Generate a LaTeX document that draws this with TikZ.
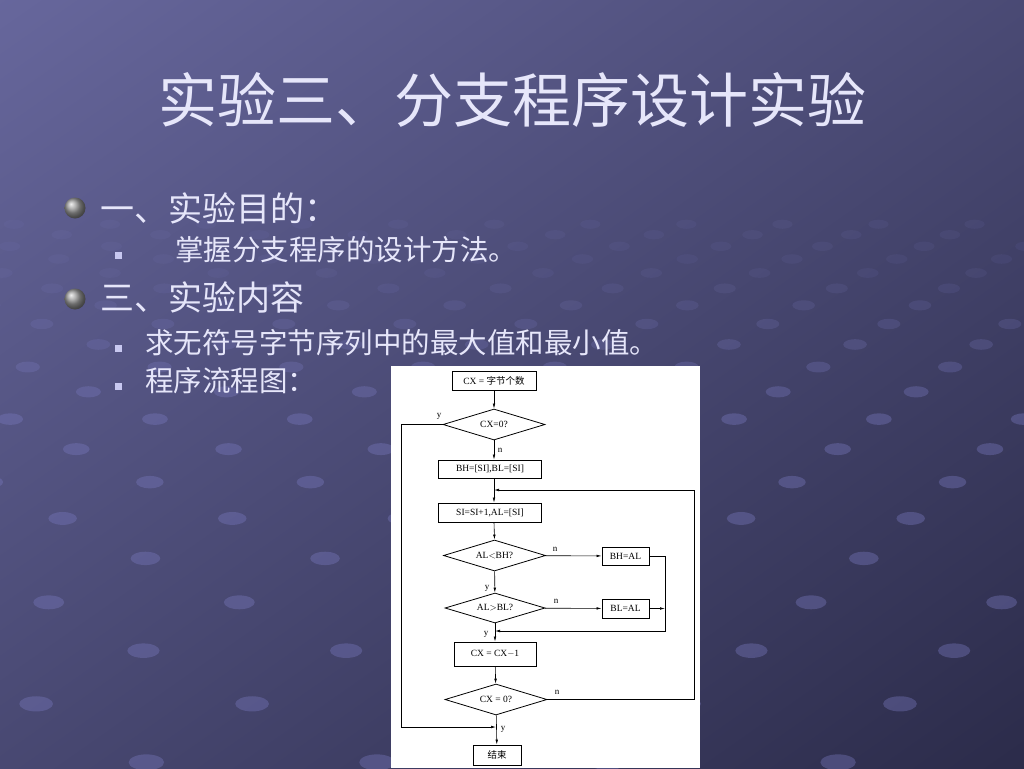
\documentclass[tikz,border=0pt]{standalone}
\usepackage{fontspec}
\setmainfont{Liberation Serif}
\newfontfamily\cjk{Noto Sans CJK SC}
\usetikzlibrary{shapes.geometric,arrows.meta,positioning}

\definecolor{bgtop}{RGB}{104,104,158}
\definecolor{bgbot}{RGB}{42,42,72}
\definecolor{dotc}{RGB}{122,122,192}
\definecolor{slidetext}{RGB}{230,230,250}
\definecolor{sqbullet}{RGB}{200,200,240}

\tikzset{
  title/.style={text=slidetext, font=\cjk\fontsize{59}{62}\selectfont, inner sep=0pt},
  lvlone/.style={anchor=west, text=slidetext, font=\cjk\fontsize{34}{38}\selectfont, inner sep=0pt},
  lvltwo/.style={anchor=west, text=slidetext, font=\cjk\fontsize{28.5}{31}\selectfont, inner sep=0pt},
  proc/.style={draw, line width=0.8pt, inner sep=1pt, font=\fontsize{9.5}{10}\selectfont},
  decision/.style={draw, diamond, line width=0.8pt, inner sep=0pt, aspect=3.3,
    minimum width=102pt, minimum height=31pt, font=\fontsize{9.5}{10}\selectfont},
  flow/.style={line width=0.6pt, -{Latex[length=5pt,width=2.6pt]}},
  yn/.style={font=\fontsize{9}{9}\selectfont, inner sep=0pt},
}

\begin{document}
\begin{tikzpicture}[x=1pt, y=-1pt]

    \useasboundingbox (0,0) rectangle (1024,768);
    \begin{scope}
        \clip (0,0) rectangle (1024,768);
        \shade[top color=bgtop, bottom color=bgbot, shading angle=35] (-200,-200) rectangle (1224,968);
        % dotted floor
        \foreach \k in {-3,...,16} {
            \pgfmathsetmacro\rowy{259+140*(1.1^\k-1)}
            \pgfmathsetmacro\gap{40+0.25*\rowy}
            \pgfmathsetmacro\rx{7+0.014*\rowy}
            \pgfmathsetmacro\op{max(0.1,min(0.38,(\rowy-220)/500))}
            \pgfmathsetmacro\start{mod(792-0.3*\gap*\k+20*\gap,\gap)}
            \foreach \j in {0,...,12}
                \fill[dotc, fill opacity=\op] (\start+\j*\gap-\gap,\rowy) ellipse [x radius=\rx pt, y radius=0.45*\rx pt];
        }
    \end{scope}

    % title and bullets
    \node[title] (title) at (512,100) {实验三、分支程序设计实验};

    \shade[ball color=gray!80] (75,208) circle (10.5pt);
    \shade[ball color=gray!80] (75,299) circle (10.5pt);
    \fill[sqbullet] (114.5,251.5) rectangle (121.5,258.5);
    \fill[sqbullet] (114.5,344.5) rectangle (121.5,351.5);
    \fill[sqbullet] (114.5,382.5) rectangle (121.5,389.5);

    \node[lvlone] (aim) at (100,208) {一、实验目的：};
    \node[lvltwo] (aimtext) at (175,250) {掌握分支程序的设计方法。};
    \node[lvlone] (content) at (100,297) {三、实验内容};
    \node[lvltwo] (task) at (145,343) {求无符号字节序列中的最大值和最小值。};
    \node[lvltwo] (chart) at (145,381) {程序流程图：};

    % flow chart panel
    \fill[white] (391,366) rectangle (700,768);

    \node[proc, minimum width=84pt, minimum height=19pt] (count) at (494,381) {CX = {\cjk 字节个数}};
    \node[decision] (zero) at (494,424.5) {CX=0?};
    \node[proc, minimum width=103pt, minimum height=18pt] (init) at (490,469) {BH=[SI],BL=[SI]};
    \node[proc, minimum width=103pt, minimum height=19pt] (next) at (490,512.5) {SI=SI+1,AL=[SI]};
    \node[decision] (less) at (494.5,555.5) {AL$<$BH?};
    \node[proc, minimum width=47pt, minimum height=18pt] (newmax) at (625.5,556) {BH=AL};
    \node[decision, minimum width=100pt, minimum height=30pt] (more) at (495,608) {AL$>$BL?};
    \node[proc, minimum width=47pt, minimum height=19pt] (newmin) at (625.5,608.5) {BL=AL};
    \node[proc, minimum width=82pt, minimum height=24pt] (dec) at (495,654) {CX = CX$-$1};
    \node[decision] (done) at (496,699.5) {CX = 0?};
    \node[proc, minimum width=48pt, minimum height=20pt] (stop) at (497,755) {\cjk 结束};

    \coordinate (loop) at (494,490);
    \coordinate (join) at (495,631);
    \coordinate (merge) at (496,727);

    \draw[flow] (count) -- (zero);
    \draw[flow] (zero.south) -- (zero.south |- init.north);
    \draw[flow] (zero.south |- init.south) -- (zero.south |- next.north);
    \draw[flow] (zero.south |- next.south) -- (less.north);
    \draw[flow] (less) -- (newmax);
    \draw[flow] (less) -- (more);
    \draw[flow] (more) -- (newmin);
    \draw[flow] (more) -- (dec);
    \draw[flow] (dec) -- (done);
    \draw[flow] (done) -- (stop);

    \draw[flow] (newmax.east) -- (665,556) |- (join);
    \draw[flow] (newmin.east) -- (665,608.5);
    \draw[flow] (done.east) -- (694,699.5) |- (loop);
    \draw[flow] (zero.west) -- (401,424.5) |- (merge);

    \node[yn] (ya) at (439,416) {y};
    \node[yn] (na) at (500,450) {n};
    \node[yn] (nb) at (555,549) {n};
    \node[yn] (yb) at (487,588) {y};
    \node[yn] (nc) at (556,601) {n};
    \node[yn] (yc) at (486,634) {y};
    \node[yn] (nd) at (557,692) {n};
    \node[yn] (yd) at (503,729) {y};

\end{tikzpicture}
\end{document}
